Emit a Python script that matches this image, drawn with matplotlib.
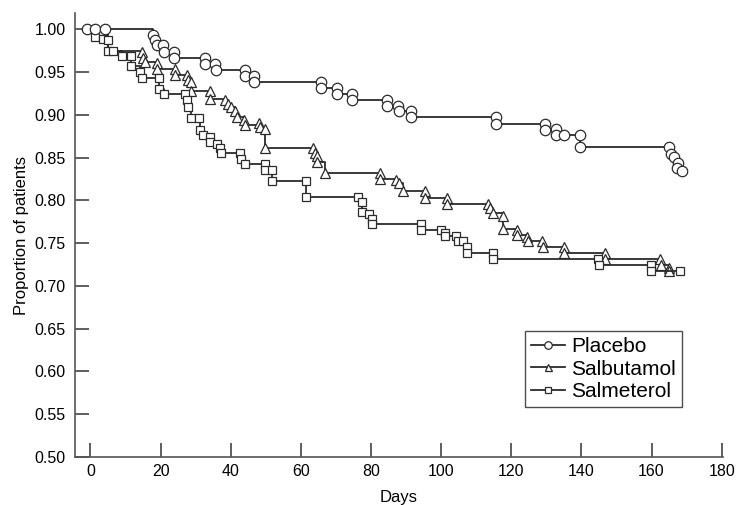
import matplotlib.pyplot as plt


# Kaplan-Meier style points (day, proportion)
placebo_days = [-1.0, 1.3, 4.1, 17.8, 18.4, 18.9, 20.7, 20.9, 23.8, 23.8, 32.6, 32.8, 35.5, 35.8,
                44.0, 44.0, 46.7, 46.7, 65.7, 65.7, 70.4, 70.4, 74.6, 74.6, 84.6, 84.7, 87.7, 87.9,
                91.5, 91.5, 115.7, 115.7, 129.7, 129.7, 132.8, 132.8, 135.0, 139.7, 139.7,
                165.1, 165.6, 166.3, 167.5, 167.3, 168.6]
placebo_vals = [1.000, 1.000, 1.000, 0.993, 0.987, 0.982, 0.982, 0.973, 0.974, 0.966, 0.966, 0.959, 0.959, 0.952,
                0.952, 0.945, 0.945, 0.939, 0.939, 0.932, 0.932, 0.925, 0.925, 0.918, 0.918, 0.911, 0.911, 0.904,
                0.904, 0.897, 0.897, 0.889, 0.889, 0.882, 0.883, 0.876, 0.876, 0.876, 0.862,
                0.862, 0.854, 0.851, 0.844, 0.838, 0.834]

salbutamol_days = [-1.0, 5.1, 14.6, 15.0, 15.7, 18.9, 18.9, 24.1, 24.1, 27.4, 27.9, 28.8, 28.8,
                   34.0, 34.0, 38.3, 39.3, 40.2, 41.2, 41.8, 43.7, 44.0, 48.1, 48.3, 49.7, 49.7,
                   63.5, 64.0, 64.7, 64.7, 66.8, 82.5, 82.5, 87.2, 88.0, 89.0, 95.3, 95.3,
                   101.8, 101.8, 113.3, 113.8, 114.8, 117.6, 117.6, 121.6, 121.7, 124.6, 124.7,
                   128.8, 129.0, 134.9, 135.0, 146.6, 146.8, 162.4, 162.7, 164.9, 164.9]
salbutamol_vals = [1.000, 0.975, 0.973, 0.967, 0.962, 0.961, 0.954, 0.954, 0.947, 0.947, 0.941, 0.938, 0.928,
                   0.928, 0.919, 0.918, 0.913, 0.909, 0.904, 0.898, 0.894, 0.888, 0.890, 0.886, 0.884, 0.861,
                   0.861, 0.855, 0.852, 0.845, 0.832, 0.832, 0.825, 0.824, 0.820, 0.811, 0.811, 0.803,
                   0.803, 0.796, 0.796, 0.791, 0.785, 0.782, 0.767, 0.766, 0.760, 0.757, 0.753,
                   0.753, 0.746, 0.746, 0.739, 0.739, 0.732, 0.732, 0.724, 0.721, 0.718]

salmeterol_days = [-1.0, 1.3, 3.6, 5.1, 5.1, 6.5, 8.9, 11.7, 11.7, 14.1, 14.6, 19.5, 19.5, 20.9,
                   26.9, 27.4, 27.9, 28.8, 31.0, 31.2, 32.0, 34.0, 34.0, 36.0, 36.9, 37.2,
                   42.6, 43.0, 44.0, 49.7, 49.7, 51.8, 51.8, 61.6, 61.6, 76.3, 77.5, 77.5, 79.4, 80.4, 80.4,
                   94.4, 94.4, 100.0, 101.2, 101.2, 104.3, 104.8, 106.2, 107.3, 107.3, 114.8, 114.8,
                   144.7, 144.9, 159.9, 159.9, 168.0]
salmeterol_vals = [1.000, 0.991, 0.989, 0.987, 0.975, 0.975, 0.969, 0.969, 0.957, 0.950, 0.943, 0.943, 0.930, 0.925,
                   0.925, 0.917, 0.909, 0.896, 0.896, 0.882, 0.876, 0.874, 0.868, 0.866, 0.861, 0.856,
                   0.856, 0.849, 0.843, 0.843, 0.836, 0.836, 0.823, 0.823, 0.804, 0.804, 0.798, 0.786, 0.784, 0.778, 0.772,
                   0.772, 0.765, 0.765, 0.762, 0.758, 0.758, 0.752, 0.752, 0.746, 0.738, 0.738, 0.732,
                   0.732, 0.725, 0.725, 0.717, 0.717]

x_ticks = [0, 20, 40, 60, 80, 100, 120, 140, 160, 180]
y_ticks = [0.50, 0.55, 0.60, 0.65, 0.70, 0.75, 0.80, 0.85, 0.90, 0.95, 1.00]


plt.rcParams['font.family'] = ['Liberation Sans', 'DejaVu Sans']

fig = plt.figure(figsize=(7.39, 5.05), dpi=100)
ax = fig.add_axes([0.1015, 0.095, 0.8765, 0.879])

line_col = '#2b2b2b'
common = dict(drawstyle='steps-post', color=line_col, lw=1.3, mfc='white', mec=line_col, mew=0.9)

ax.plot(salmeterol_days, salmeterol_vals, marker='s', ms=6.2, label='Salmeterol',
        markevery=list(range(1, len(salmeterol_days))), zorder=3, **common)
ax.plot(salbutamol_days, salbutamol_vals, marker='^', ms=7, label='Salbutamol',
        markevery=list(range(2, len(salbutamol_days))), zorder=2, **common)
ax.plot(placebo_days, placebo_vals, marker='o', ms=7.5, label='Placebo', zorder=4, **common)

ax.set_xlim(-4.4, 180.3)
ax.set_ylim(0.50, 1.019)
ax.set_xticks(x_ticks)
ax.set_yticks(y_ticks)
ax.set_yticklabels([f"{v:.2f}" for v in y_ticks])

for s in ['top', 'right']:
    ax.spines[s].set_visible(False)
for s in ['left', 'bottom']:
    ax.spines[s].set_color('#555555')
    ax.spines[s].set_linewidth(1.2)

ax.tick_params(direction='in', length=9.8, width=1.1, color='#333333', labelsize=11.5)
ax.tick_params(axis='x', pad=5)
ax.tick_params(axis='y', pad=6.5)

ax.set_xlabel('Days', fontsize=12, labelpad=8)
ax.set_ylabel('Proportion of patients', fontsize=12, labelpad=4)

# legend in the order of the reference
h, l = ax.get_legend_handles_labels()
order = [2, 1, 0]
leg = ax.legend([h[i] for i in order], [l[i] for i in order], loc='upper left',
                bbox_to_anchor=(0.695, 0.284), fontsize=15, frameon=True, fancybox=False,
                edgecolor='#222222', handlelength=1.6, handletextpad=0.3, borderpad=0.3,
                labelspacing=0.16, borderaxespad=0, markerscale=0.72)
leg.get_frame().set_linewidth(1.0)

plt.savefig('out.png', dpi=100)
